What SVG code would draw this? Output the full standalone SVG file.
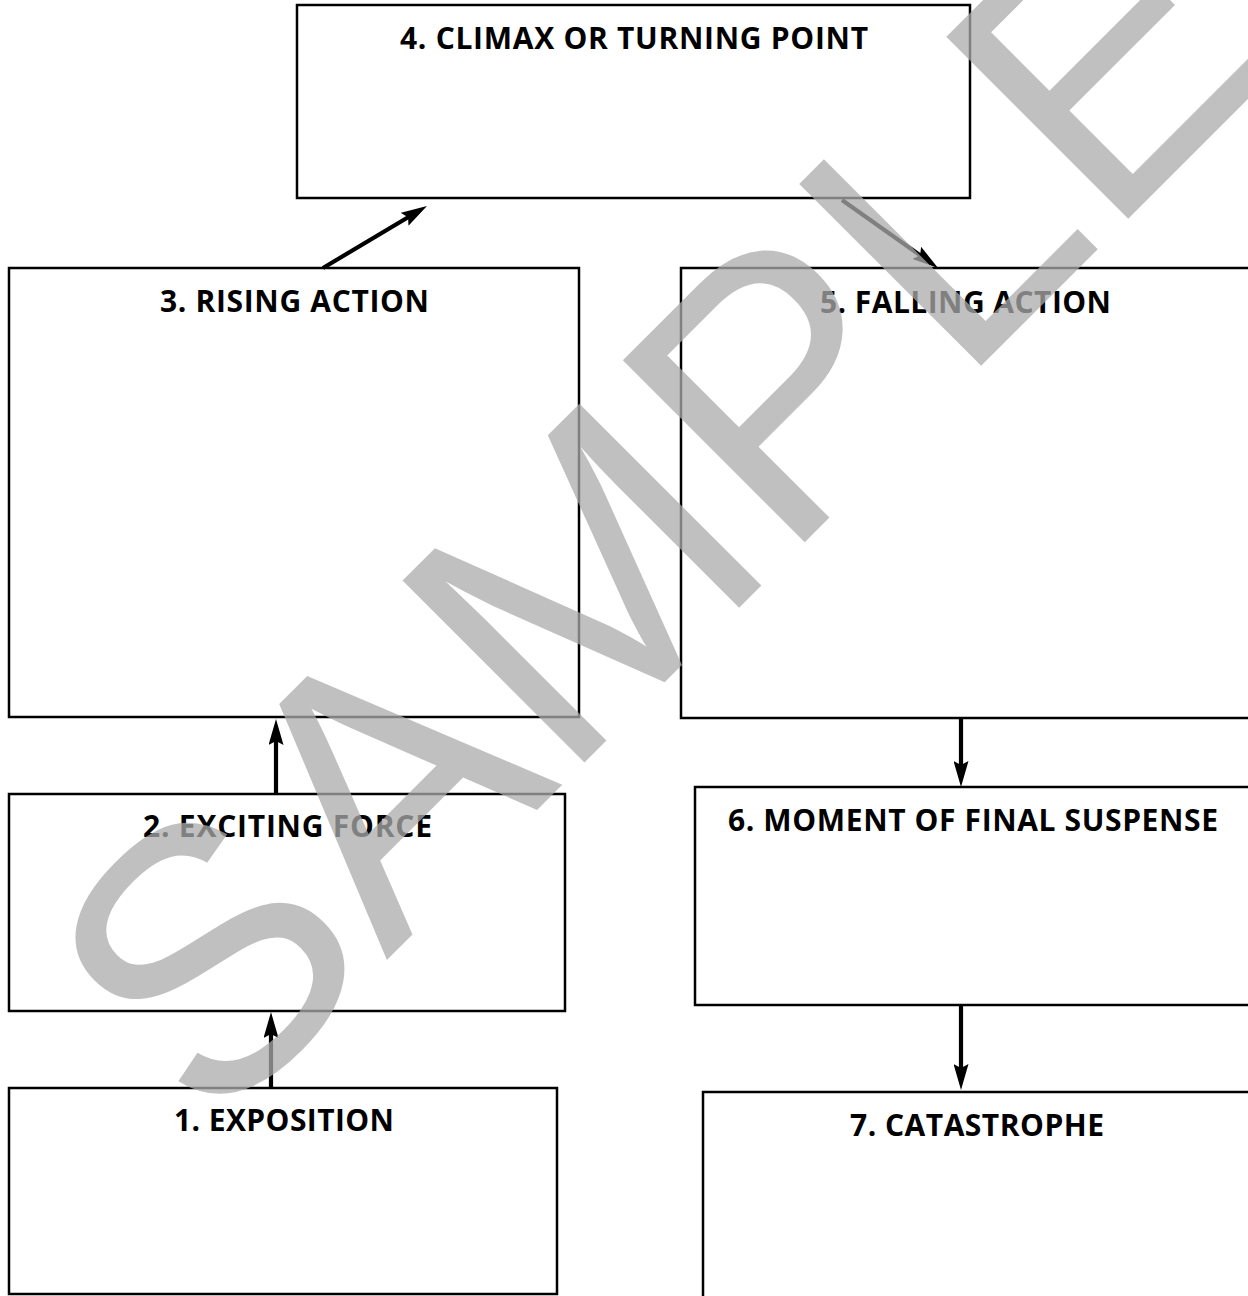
<svg xmlns="http://www.w3.org/2000/svg" width="1248" height="1296" viewBox="0 0 1248 1296">
  <style>
    .box { fill: #ffffff; stroke: #000000; stroke-width: 2.5; }
    .lbl { font-family: "Open Sans", "Noto Sans", "Liberation Sans", sans-serif; font-weight: 700; font-size: 30px; fill: #000000; text-anchor: middle; }
    .conn { stroke: #000000; stroke-width: 4.2; fill: none; marker-end: url(#ah); }
    .wm { font-family: "Liberation Sans", Arial, sans-serif; font-size: 374px; fill: #ababab; fill-opacity: 0.75; }
  </style>
  <defs>
    <marker id="ah" markerUnits="userSpaceOnUse" markerWidth="27" markerHeight="15" viewBox="0 0 26 15" refX="6" refY="7.5" orient="auto">
      <path d="M0,0 L26,7.5 L0,15 L4,7.5 Z" fill="#000000"/>
    </marker>
  </defs>
  <rect width="1248" height="1296" fill="#ffffff"/>

  <g id="node4">
    <rect class="box" x="297" y="5" width="673" height="193"/>
    <text class="lbl" x="634" y="49" textLength="468" lengthAdjust="spacing">4. CLIMAX OR TURNING POINT</text>
  </g>
  <g id="node3">
    <rect class="box" x="9" y="268" width="570" height="449"/>
    <text class="lbl" x="294.5" y="312" textLength="269" lengthAdjust="spacing">3. RISING ACTION</text>
  </g>
  <g id="node5">
    <rect class="box" x="681" y="268" width="600" height="450"/>
    <text class="lbl" x="965.5" y="313" textLength="291" lengthAdjust="spacing">5. FALLING ACTION</text>
  </g>
  <g id="node2">
    <rect class="box" x="9" y="794" width="556" height="217"/>
    <text class="lbl" x="287.5" y="837" textLength="289" lengthAdjust="spacing">2. EXCITING FORCE</text>
  </g>
  <g id="node6">
    <rect class="box" x="695" y="787" width="600" height="218"/>
    <text class="lbl" x="973" y="831" textLength="490" lengthAdjust="spacing">6. MOMENT OF FINAL SUSPENSE</text>
  </g>
  <g id="node1">
    <rect class="box" x="9" y="1088" width="548" height="206"/>
    <text class="lbl" x="284" y="1131" textLength="220" lengthAdjust="spacing">1. EXPOSITION</text>
  </g>
  <g id="node7">
    <rect class="box" x="703" y="1092" width="600" height="300"/>
    <text class="lbl" x="977" y="1136" textLength="254" lengthAdjust="spacing">7. CATASTROPHE</text>
  </g>

  <g id="connectors">
    <line class="conn" x1="323" y1="268" x2="409.8" y2="216.2"/>
    <line class="conn" x1="842" y1="200" x2="921.7" y2="256.4"/>
    <line class="conn" x1="276" y1="794" x2="276" y2="739"/>
    <line class="conn" x1="271" y1="1088" x2="271" y2="1032"/>
    <line class="conn" x1="961" y1="718" x2="961" y2="767"/>
    <line class="conn" x1="961" y1="1005" x2="961" y2="1070"/>
  </g>

  <g id="watermark">
    <text class="wm" transform="translate(210,1137) rotate(-45)">SAMPLE</text>
  </g>
</svg>
